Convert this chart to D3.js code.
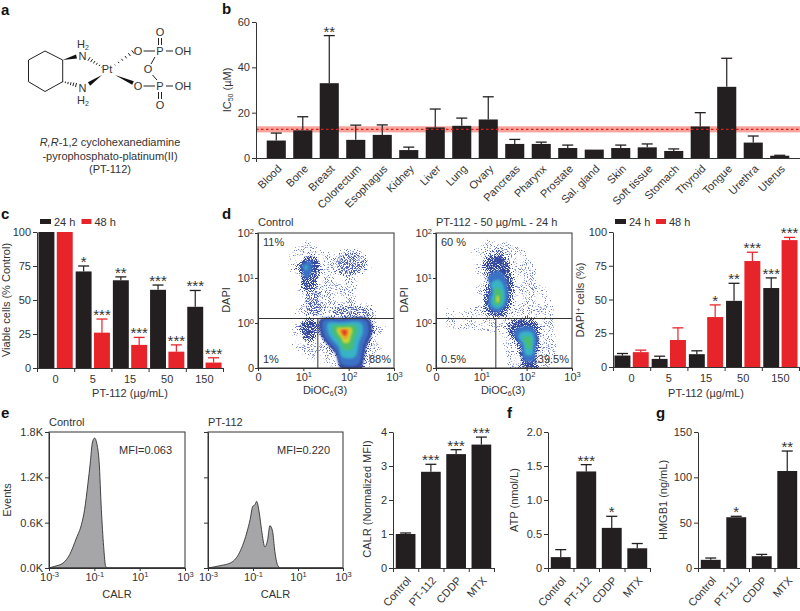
<!DOCTYPE html>
<html><head><meta charset="utf-8">
<script src="https://cdn.jsdelivr.net/npm/d3@7"></script>
<style>
html,body{margin:0;padding:0;background:#fff}
svg{display:block}
text{font-family:"Liberation Sans",Arial,sans-serif;fill:#333;font-size:11px}
.letter{font-weight:bold;font-size:15px;fill:#111}
.axis text{font-size:11px;fill:#333}
.axis path,.axis line{stroke:#333;stroke-width:1}
.star{font-size:15px;text-anchor:middle}
</style></head><body>
<svg id="c" width="800" height="611"></svg>
<script>
// ---------- DATA ----------
const tissues=["Blood","Bone","Breast","Colorectum","Esophagus","Kidney","Liver","Lung","Ovary","Pancreas","Pharynx","Prostate","Sal. gland","Skin","Soft tissue","Stomach","Thyroid","Tongue","Urethra","Uterus"];
const ic50=[7.7,12.2,33,8,10.2,3.5,13.5,14.2,17,6.2,6.2,4.4,3.7,4.4,4.7,3.1,13.9,31.4,6.8,1];
const ic50Err=[11,18.2,54,14.5,14.6,4.8,21.6,17.6,27,8.2,7,5.7,3.7,5.7,6.2,4,20,44,9.7,1.2];
const ic50Stars=["","","**","","","","","","","","","","","","","","","","",""];
const ic50Mean=12.6, ic50Low=11.3, ic50High=14;

const doses=["0","5","15","50","150"];
const viable24=[100,71,64.5,57.5,45], viable24Err=[100,75,67,61,57], viable24Stars=["","*","**","***","***"];
const viable48=[100,26,17,12,4], viable48Err=[100,36,22.5,17,7.5], viable48Stars=["","***","***","***","***"];
const dapi24=[8.5,6,9.5,49,58.5], dapi24Err=[10,8,12,62,66], dapi24Stars=["","","","**","***"];
const dapi48=[11,20,37,78.5,94], dapi48Err=[12.5,29,46,85,96], dapi48Stars=["","","*","***","***"];

const agents=["Control","PT-112","CDDP","MTX"];
const calr=[1,2.83,3.35,3.63], calrErr=[1.03,3.05,3.48,3.85], calrStars=["","***","***","***"];
const atp=[.16,1.42,.59,.29], atpErr=[.27,1.52,.76,.36], atpStars=["","***","*",""];
const hmgb1=[9,56,13,107], hmgb1Err=[11,57,15,129], hmgb1Stars=["","*","","**"];

// CALR histograms: [log10 CALR, events]
const histControl=[[-3,0],[-2.75,22],[-2.38,66],[-2.09,176],[-1.79,397],[-1.57,573],[-1.43,772],[-1.28,1124],[-1.18,1389],[-1.09,1654],[-0.99,1720],[-0.88,1632],[-0.79,1411],[-0.69,772],[-0.59,287],[-0.5,22],[-0.4,0],[3,0]];
const histPT=[[-3,0],[-2.46,31],[-2.01,66],[-1.65,176],[-1.28,463],[-1.13,639],[-1.01,816],[-0.91,838],[-0.84,882],[-0.72,728],[-0.62,507],[-0.47,278],[-0.35,375],[-0.25,560],[-0.13,485],[-0.03,221],[0.12,22],[0.26,0],[3,0]];

// Flow cytometry density contours, in axis decades (x: 0..3, y: 0..3)
const ctrlSparse=[[1.03,2.91],[1.47,2.65],[2.43,2.5],[2.43,2.06],[2.21,1.69],[2.72,1.17],[2.8,.5],[2.43,0],[1.47,0],[.74,.5],[.77,1.17],[.85,1.54],[.7,2.21],[.66,2.5]];
const ctrlUpperRight=[[1.7,2.6],[2.3,2.6],[2.45,2.3],[2.2,2],[1.8,2],[1.65,2.3]];
const ctrlBridge=[[1.04,1.8],[1.41,1.8],[1.45,1.13],[1.04,1.13]];
const ctrlShoulder=[[1.63,1.44],[2.58,1.3],[2.62,1.08],[1.63,1.1]];
const ctrlClusterA=[[1.1,2.54],[1.36,2.5],[1.4,2.21],[1.32,1.84],[1.1,1.63],[.94,1.76],[.9,2.1],[.79,2.24],[.92,2.39]];
const ctrlPeakA=[1.05,2.25];
const ctrlClusterB=[[.92,1.06],[1.31,1.1],[1.31,.65],[1.1,.54],[.92,.69]];
const ctrlPeakB=[1.1,.85];
const ctrlClusterD=[[1.32,1.1],[1.8,1.13],[2.5,1.11],[2.57,.8],[2.43,.43],[2.28,-.1],[1.84,-.1],[1.69,.28],[1.43,.58],[1.32,.8]];
const ctrlPeakD=[1.9,.81];
const ptSparse=[[1.1,2.9],[1.9,2.7],[2.5,1.7],[2.7,.9],[2.6,0],[1.6,0],[1.3,.7],[.2,.9],[.1,1.2],[.8,1.4],[.8,2.6]];
const ptClusterE=[[1.35,2.61],[1.6,2.43],[1.75,1.84],[1.68,1.32],[1.35,1.06],[1.05,1.24],[1.01,1.61],[1.13,1.99],[.98,2.32]];
const ptPeakE=[1.36,1.5];
const ptClusterF=[[1.6,1.06],[2.19,1.1],[2.34,.73],[2.3,.36],[2.23,-.1],[1.9,-.1],[1.75,.5],[1.53,.8]];
const ptPeakF=[2.04,.58];
const densityColors=["#34489f","#3a72c6","#38b3c6","#4bbd6e","#cfd633","#f0952c","#e0301f"];
// [colour index, contour scale towards the peak]
const bandsA=[[1,.42],[2,.13]];
const bandsB=[];
const bandsD=[[0,.92],[1,.8],[2,.62],[3,.43],[4,.27],[5,.17],[6,.09]];
const bandsE=[[1,.6],[2,.42],[3,.25],[4,.1]];
const bandsF=[[1,.62],[2,.42],[3,.22]];

const BLACK="#231f20", RED="#e8242b";
const svg=d3.select("#c");

// ---------- HELPERS ----------
function letter(s,x,y){svg.append("text").attr("class","letter").attr("x",x).attr("y",y).text(s);}
function label(s,x,y,anchor){return svg.append("text").attr("x",x).attr("y",y).attr("text-anchor",anchor||"middle").text(s);}
function vlabel(x,y){return svg.append("text").attr("transform",`translate(${x},${y}) rotate(-90)`).attr("text-anchor","middle");}
function sup(sel,base,exp){
  sel.text(null);
  sel.append("tspan").text(base);
  if(exp!=="")sel.append("tspan").attr("font-size","7.5px").attr("dy","-3.5").text(exp);
}
function yAxis(y,x,tv,fmt){
  const a=d3.axisLeft(y).tickValues(tv).tickSize(4).tickPadding(2).tickSizeOuter(0).tickFormat(fmt);
  return svg.append("g").attr("class","axis").attr("transform",`translate(${x},0)`).call(a);
}
function bars(x,bw,vals,errs,stars,y,color){
  const cap=Math.min(bw*.36,5.5);
  const g=svg.append("g");
  vals.forEach((v,i)=>{
    const cx=x(i)+bw/2;
    g.append("rect").attr("x",x(i)).attr("width",bw).attr("y",y(v)).attr("height",y(0)-y(v)).attr("fill",color);
    if(errs[i]>v){
      g.append("line").attr("x1",cx).attr("x2",cx).attr("y1",y(v)).attr("y2",y(errs[i])).attr("stroke",color).attr("stroke-width",1.2);
      g.append("line").attr("x1",cx-cap).attr("x2",cx+cap).attr("y1",y(errs[i])).attr("y2",y(errs[i])).attr("stroke",color).attr("stroke-width",1.3);
    }
    if(stars[i])g.append("text").attr("class","star").attr("x",cx).attr("y",y(errs[i])+1).text(stars[i]);
  });
}
function boundaryAxis(x0,x1,y0,n){
  const s=d3.scaleLinear([0,n],[x0,x1]);
  svg.append("g").attr("class","axis").attr("transform",`translate(0,${y0})`)
    .call(d3.axisBottom(s).ticks(n).tickSize(4).tickSizeOuter(0).tickFormat(""));
}

// ---------- PANEL A (structure drawing) ----------
letter("a",1,15);
(function(){
  const g=svg.append("g").attr("stroke","#222").attr("fill","none").attr("stroke-width",1);
  g.append("path").attr("d","M28.5 60L45 51L62.7 60V81.7L45 91.5L28.5 81.7Z");
  const wedge=(x1,y1,x2,y2)=>{
    const dx=x2-x1,dy=y2-y1,l=Math.hypot(dx,dy),nx=-dy/l*2,ny=dx/l*2;
    g.append("path").attr("d",`M${x1} ${y1}L${x2+nx} ${y2+ny}L${x2-nx} ${y2-ny}Z`).attr("fill","#111").attr("stroke","none");
  };
  const hash=(x1,y1,x2,y2)=>{
    for(let t=0;t<=1.001;t+=.2){
      const x=x1+(x2-x1)*t,y=y1+(y2-y1)*t,dx=x2-x1,dy=y2-y1,l=Math.hypot(dx,dy),w=.5+1.6*t,nx=-dy/l*w,ny=dx/l*w;
      g.append("line").attr("x1",x+nx).attr("y1",y+ny).attr("x2",x-nx).attr("y2",y-ny);
    }
  };
  wedge(62.7,60,76.5,56.5); hash(62.7,81.7,76,85);
  hash(102,67,89,59); wedge(102,75,89,84);
  hash(115,65,133,52); wedge(115,75,133,83);
  [[143.5,51,155,51],[166,51,173,51],[143.5,86,155,86],[166,86,173,86],[155,57,151,64],[152.5,75,157,80]].forEach(l=>
    g.append("line").attr("x1",l[0]).attr("y1",l[1]).attr("x2",l[2]).attr("y2",l[3]));
  [[158.5,38,158.5,45],[161.5,38,161.5,45],[158.5,92,158.5,99],[161.5,92,161.5,99]].forEach(l=>
    g.append("line").attr("x1",l[0]).attr("y1",l[1]).attr("x2",l[2]).attr("y2",l[3]));
  [["N",82.5,60],["N",82.5,92],["Pt",107,73],["O",138,55],["P",160,55],["OH",183,55],["O",160,36],["O",138,90],["P",160,90],["OH",183,90],["O",160,109],["O",148,73]].forEach(a=>
    label(a[0],a[1],a[2]));
  const h=(x,y)=>{const t=label("",x,y);t.append("tspan").text("H");t.append("tspan").attr("font-size","7px").attr("dy","2").text("2");};
  h(83,48); h(83,104);
})();
(function(){
  const t=label("",110,146); t.append("tspan").attr("font-style","italic").text("R,R");t.append("tspan").text("-1,2 cyclohexanediamine");
  label("-pyrophosphato-platinum(II)",110,160);
  label("(PT-112)",110,173);
})();

// ---------- PANEL B ----------
letter("b",222,14);
(function(){
  const x=d3.scaleBand().domain(tissues).range([256,800]).paddingInner(.28).paddingOuter(.405);
  const y=d3.scaleLinear([0,60],[158,22]);
  svg.append("rect").attr("x",256).attr("width",544).attr("y",y(ic50High)).attr("height",y(ic50Low)-y(ic50High)).attr("fill","#f7a59c");
  bars(i=>x(tissues[i]),x.bandwidth(),ic50,ic50Err,ic50Stars,y,BLACK);
  svg.append("line").attr("x1",256).attr("x2",800).attr("y1",y(ic50Mean)).attr("y2",y(ic50Mean)).attr("stroke","#d8201f").attr("stroke-width",1.2).attr("stroke-dasharray","2.5 2.5");
  yAxis(y,256,[0,20,40,60],d3.format("d"));
  svg.append("g").attr("class","axis").attr("transform","translate(0,158)")
    .call(d3.axisBottom(x).tickSizeInner(0).tickSizeOuter(4))
    .selectAll("text").attr("text-anchor","end").attr("x",0).attr("y",0).attr("dy",0)
    .attr("transform","translate(6,11.5) rotate(-45)");
  vlabel(231,90).call(t=>{t.append("tspan").text("IC");t.append("tspan").attr("font-size","7px").attr("dy","2").text("50");t.append("tspan").attr("dy","-2").text(" (µM)");});
})();

// ---------- PANEL C ----------
letter("c",1,219);
function grouped(x0,x1,top,bot,domainMax,a,aE,aS,b,bE,bS,ytv){
  const y=d3.scaleLinear([0,domainMax],[bot,top]);
  const x=d3.scaleBand().domain(doses).range([x0,x1]);
  const inner=d3.scaleBand().domain(["24","48"]).range([0,x.bandwidth()]).paddingInner(.13).paddingOuter(.08);
  bars(i=>x(doses[i])+inner("24"),inner.bandwidth(),a,aE,aS,y,BLACK);
  bars(i=>x(doses[i])+inner("48"),inner.bandwidth(),b,bE,bS,y,RED);
  yAxis(y,x0,ytv,d3.format("d"));
  boundaryAxis(x0,x1,bot,doses.length);
  doses.forEach(d=>label(d,x(d)+x.bandwidth()/2,bot+15));
}
grouped(37,223,232,368,100,viable24,viable24Err,viable24Stars,viable48,viable48Err,viable48Stars,[0,25,50,75,100]);
vlabel(10,300).text("Viable cells (% Control)");
label("PT-112 (µg/mL)",130,397);
function legend(x,y,dx){
  svg.append("rect").attr("x",x).attr("y",y).attr("width",11).attr("height",5).attr("fill",BLACK);
  label("24 h",x+14,y+6.5,"start").attr("font-size","11.5px");
  svg.append("rect").attr("x",x+dx).attr("y",y).attr("width",10).attr("height",5).attr("fill",RED);
  label("48 h",x+dx+13,y+6.5,"start").attr("font-size","11.5px");
}
legend(40,219,41.5);

// ---------- PANEL D ----------
letter("d",222,219);
const defs=svg.append("defs");
// Stipple: dot density fades with the blurred shape, so edges thin out.
function speckle(id,amount,color){
  const f=defs.append("filter").attr("id",id).attr("color-interpolation-filters","sRGB")
    .attr("x","-25%").attr("y","-25%").attr("width","150%").attr("height","150%");
  f.append("feGaussianBlur").attr("in","SourceAlpha").attr("stdDeviation",3.5).attr("result","b");
  f.append("feTurbulence").attr("type","fractalNoise").attr("baseFrequency",1.05).attr("numOctaves",1).attr("seed",7).attr("result","n");
  f.append("feColorMatrix").attr("in","n").attr("type","matrix").attr("values","0 0 0 0 0 0 0 0 0 0 0 0 0 0 0 1 0 0 0 0").attr("result","na");
  f.append("feComposite").attr("in","b").attr("in2","na").attr("operator","arithmetic").attr("k1",0).attr("k2",amount).attr("k3",1).attr("k4",0).attr("result","sum");
  const ct=f.append("feComponentTransfer").attr("in","sum").attr("result","mask");
  ct.append("feFuncA").attr("type","linear").attr("slope",12).attr("intercept",-10.2);
  f.append("feFlood").attr("flood-color",color).attr("result","col");
  f.append("feComposite").attr("in","col").attr("in2","mask").attr("operator","in").attr("result","c");
  f.append("feGaussianBlur").attr("in","c").attr("stdDeviation",.3);
}
speckle("sparse",.28,"#6f82c6");
speckle("medium",.38,"#4d62b4");
speckle("dense",.5,"#34489f");
const soft=defs.append("filter").attr("id","soft"); soft.append("feGaussianBlur").attr("stdDeviation",1.2);

function flow(x0,x1,top,bot,title,sparse,mediumAreas,clusters,vline,pcts){
  const x=d3.scaleLinear([0,3],[x0,x1]), y=d3.scaleLinear([0,3],[bot,top]);
  const cid="clip"+x0;
  defs.append("clipPath").attr("id",cid).append("rect").attr("x",x0).attr("y",top).attr("width",x1-x0).attr("height",bot-top);
  const g=svg.append("g").attr("clip-path",`url(#${cid})`);
  const line=d3.line().x(d=>x(d[0])).y(d=>y(d[1])).curve(d3.curveCatmullRomClosed);
  const shrink=(pts,pk,s)=>pts.map(p=>[pk[0]+(p[0]-pk[0])*s,pk[1]+(p[1]-pk[1])*s]);
  g.append("path").attr("d",line(sparse)).attr("fill","#000").attr("filter","url(#sparse)");
  mediumAreas.forEach(a=>g.append("path").attr("d",line(a)).attr("fill","#000").attr("filter","url(#medium)"));
  clusters.forEach(c=>{
    g.append("path").attr("d",line(shrink(c.outline,c.peak,1.1))).attr("fill","#000").attr("filter","url(#medium)");
    g.append("path").attr("d",line(c.outline)).attr("fill","#000").attr("filter","url(#dense)");
    c.bands.forEach(b=>{
      g.append("path").attr("d",line(shrink(c.outline,c.peak,b[1]))).attr("fill",densityColors[b[0]]).attr("filter","url(#soft)");
    });
  });
  svg.append("rect").attr("x",x0).attr("y",top).attr("width",x1-x0).attr("height",bot-top).attr("fill","none").attr("stroke","#333");
  const yg=svg.append("g").attr("class","axis").attr("transform",`translate(${x0},0)`)
    .call(d3.axisLeft(y).tickValues([0,1,2,3]).tickSize(3).tickPadding(1).tickSizeOuter(0).tickFormat(""));
  yg.selectAll(".tick text").each(function(d){sup(d3.select(this),d==0?"0":"10",d==0?"":String(d-1));});
  const xg=svg.append("g").attr("class","axis").attr("transform",`translate(0,${bot})`)
    .call(d3.axisBottom(x).tickValues([0,1,2,3]).tickSize(3).tickPadding(2).tickSizeOuter(0).tickFormat(""));
  xg.selectAll(".tick text").each(function(d){sup(d3.select(this),d==0?"0":"10",d==0?"":String(d));});
  g.append("line").attr("x1",x0).attr("x2",x1).attr("y1",y(1.1)).attr("y2",y(1.1)).attr("stroke","#333");
  g.append("line").attr("x1",x(vline)).attr("x2",x(vline)).attr("y1",y(1.1)).attr("y2",bot).attr("stroke","#333");
  label(title,x0,226,"start");
  label(pcts[0],x0+5,246,"start");
  label(pcts[1],x0+5,363,"start");
  label(pcts[2],x1-3,363,"end");
  label("",(x0+x1)/2-1,394).call(t=>{t.append("tspan").text("DiOC");t.append("tspan").attr("font-size","7px").attr("dy","2").text("6");t.append("tspan").attr("dy","-2").text("(3)");});
  vlabel(x0-28,300).text("DAPI");
}
flow(258,394,233,368,"Control",ctrlSparse,[ctrlUpperRight,ctrlBridge,ctrlShoulder],[
  {outline:ctrlClusterB,peak:ctrlPeakB,bands:bandsB},
  {outline:ctrlClusterA,peak:ctrlPeakA,bands:bandsA},
  {outline:ctrlClusterD,peak:ctrlPeakD,bands:bandsD}],1.32,["11%","1%","88%"]);
flow(436,572,233,368,"PT-112 - 50 µg/mL - 24 h",ptSparse,[],[
  {outline:ptClusterE,peak:ptPeakE,bands:bandsE},
  {outline:ptClusterF,peak:ptPeakF,bands:bandsF}],1.32,["60 %","0.5%","39.5%"]);

grouped(613,799,232,367,100,dapi24,dapi24Err,dapi24Stars,dapi48,dapi48Err,dapi48Stars,[0,25,50,75,100]);
vlabel(584,300).call(t=>{t.append("tspan").text("DAPI");t.append("tspan").attr("font-size","7px").attr("dy","-3").text("+");t.append("tspan").attr("dy","3").text(" cells (%)");});
label("PT-112 (µg/mL)",706,397);
legend(615,219,41);

// ---------- PANEL E ----------
letter("e",1,418);
function hist(x0,x1,title,data,mfi,leftLabels){
  const x=d3.scaleLinear([-3,3],[x0,x1]), y=d3.scaleLinear([0,1800],[568,432]);
  svg.append("path").attr("d",d3.area().x(d=>x(d[0])).y0(y(0)).y1(d=>y(d[1])).curve(d3.curveMonotoneX)(data))
    .attr("fill","#a6a5a7").attr("stroke","#333").attr("stroke-width",.9);
  svg.append("rect").attr("x",x0).attr("y",432).attr("width",x1-x0).attr("height",136).attr("fill","none").attr("stroke","#333").attr("stroke-width",1);
  svg.append("g").attr("class","axis").attr("transform",`translate(${x0},0)`)
    .call(d3.axisLeft(y).tickValues([0,600,1200,1800]).tickSize(4).tickPadding(2).tickSizeOuter(0)
    .tickFormat(leftLabels?(d=>(d/1000).toFixed(1)+"K"):""));
  const xg=svg.append("g").attr("class","axis").attr("transform","translate(0,568)")
    .call(d3.axisBottom(x).tickValues([-3,-1,1,3]).tickSize(3).tickPadding(2).tickSizeOuter(0).tickFormat(""));
  xg.selectAll(".tick text").each(function(d){sup(d3.select(this),"10",String(d));});
  label(title,x0,426,"start");
  label(mfi,x1-13,454,"end");
  label("CALR",(x0+x1)/2,598);
}
hist(49,185,"Control",histControl,"MFI=0.063",true);
hist(208,343,"PT-112",histPT,"MFI=0.220",false);
vlabel(11,500).text("Events");

// ---------- PANELS E (bars), F, G ----------
function agentBars(x0,x1,dmax,tv,fmt,vals,errs,stars,ylab,ylabX,ylabY){
  const x=d3.scaleBand().domain(agents).range([x0,x1]).paddingInner(.22).paddingOuter(.11);
  const y=d3.scaleLinear([0,dmax],[568,432]);
  bars(i=>x(agents[i]),x.bandwidth(),vals,errs,stars,y,BLACK);
  yAxis(y,x0,tv,fmt);
  boundaryAxis(x0,x1,568,agents.length);
  agents.forEach(a=>{
    const cx=x(a)+x.bandwidth()/2+6;
    svg.append("text").attr("transform",`translate(${cx},581) rotate(-48)`).attr("text-anchor","end").text(a);
  });
  vlabel(ylabX,ylabY).text(ylab);
}
agentBars(393,494,4,[0,1,2,3,4],d3.format("d"),calr,calrErr,calrStars,"CALR (Normalized MFI)",371,499);
letter("f",507,418);
agentBars(548,650,2,[0,.5,1,1.5,2],d=>d==0?"0":d.toFixed(1),atp,atpErr,atpStars,"ATP (nmol/L)",518,500);
letter("g",656,418);
agentBars(698,800,150,[0,50,100,150],d3.format("d"),hmgb1,hmgb1Err,hmgb1Stars,"HMGB1 (ng/mL)",667,500);
</script>
</body></html>
